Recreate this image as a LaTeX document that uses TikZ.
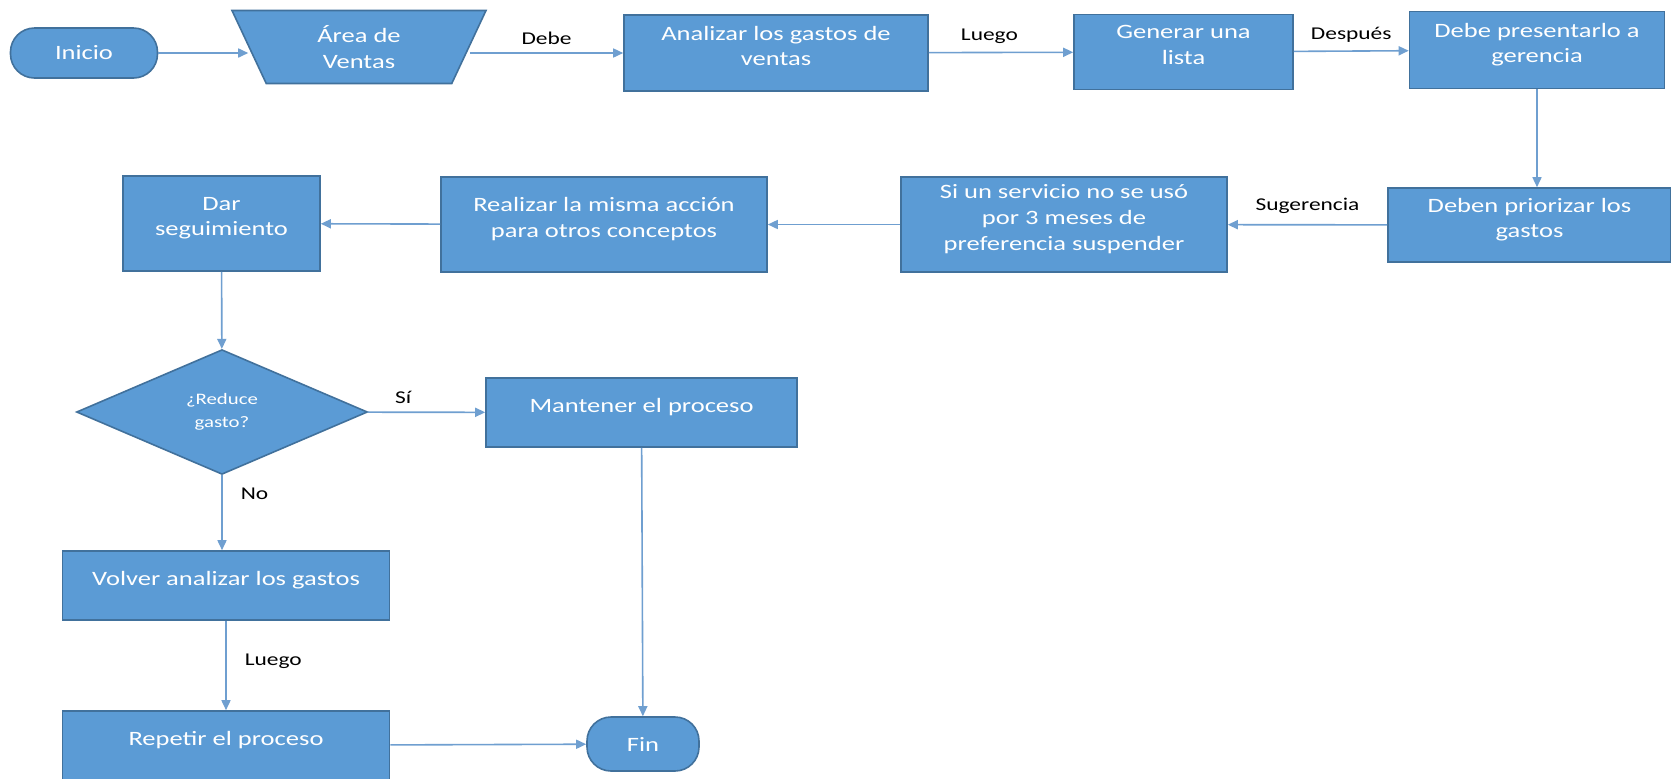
\documentclass[tikz,border=0pt]{standalone}
\usepackage{fontspec}
\setmainfont{Carlito}[FakeStretch=1.3]
\usepackage{xcolor}
\usepackage{tikz}
\usetikzlibrary{shapes.geometric}
\usetikzlibrary{arrows.meta}
\definecolor{azul}{HTML}{5B9BD5}
\definecolor{azulborde}{HTML}{41719C}
\definecolor{linea}{HTML}{6F9FD0}

\begin{document}
\begin{tikzpicture}[x=0.5pt, y=-0.5pt,
	caja/.style={rectangle, fill=azul, draw=azulborde, line width=0.8pt, text=white, align=center, inner sep=2pt, font=\fontsize{10.2}{12.8}\selectfont},
	proceso/.style={caja, text depth=7pt},
	terminal/.style={caja, rounded corners=12pt},
	entrada/.style={caja, trapezium, trapezium left angle=56, trapezium right angle=56, shape border rotate=180, trapezium stretches body},
	decision/.style={caja, diamond, font=\fontsize{8}{11.5}\selectfont},
	flecha/.style={draw=linea, line width=0.8pt, -{Triangle[length=5pt,width=4.5pt]}},
	etiqueta/.style={font=\fontsize{9}{11}\selectfont, inner sep=1pt, text=black}]
	
	\useasboundingbox[fill=white] (0,0) rectangle (1671,778);
	
	\node[terminal, minimum width=73.5pt, minimum height=25pt] (inicio) at (84,53) {Inicio};
	\node[entrada, minimum width=127pt, minimum height=36.5pt] (area) at (359,47) {Área de\\Ventas};
	\node[proceso, minimum width=152pt, minimum height=38pt] (analizar) at (776,53) {Analizar los gastos de\\ventas};
	\node[proceso, minimum width=109.5pt, minimum height=37.5pt] (generar) at (1183.5,52) {Generar una\\lista};
	\node[proceso, minimum width=127.5pt, minimum height=38.5pt] (presentar) at (1537,50) {Debe presentarlo a\\gerencia};
	
	\node[proceso, minimum width=141.5pt, minimum height=37pt] (priorizar) at (1529.5,225) {Deben priorizar los\\gastos};
	\node[proceso, minimum width=163pt, minimum height=47.5pt] (servicio) at (1064,224.5) {Si un servicio no se usó\\por 3 meses de\\preferencia suspender};
	\node[proceso, minimum width=163pt, minimum height=47.5pt] (realizar) at (604,224.5) {Realizar la misma acción\\para otros conceptos};
	\node[proceso, minimum width=98.5pt, minimum height=47.5pt] (dar) at (221.5,223.5) {Dar\\seguimiento};
	
	\node[decision, minimum width=145.5pt, minimum height=60pt] (reduce) at (222,412) {¿Reduce\\gasto?};
	\node[proceso, minimum width=155.5pt, minimum height=34.5pt] (mantener) at (641.5,412.5) {Mantener el proceso};
	\node[proceso, minimum width=163.5pt, minimum height=34.5pt] (volver) at (226,585.5) {Volver analizar los gastos};
	\node[proceso, minimum width=163.5pt, minimum height=34.5pt] (repetir) at (226,745.5) {Repetir el proceso};
	\node[terminal, minimum width=56pt, minimum height=27pt] (fin) at (643,744) {Fin};
	
	\draw[flecha] (inicio) -- (inicio -| area.west);
	\draw[flecha] (area.east |- analizar) -- node[etiqueta, above=3pt] {Debe} (analizar);
	\draw[flecha] (analizar) -- node[etiqueta, above=3pt, pos=0.42] {Luego} (generar);
	\draw[flecha] (generar) -- node[etiqueta, above=3pt] {Después} (presentar);
	\draw[flecha] (presentar) -- (presentar |- priorizar.north);
	\draw[flecha] (priorizar) -- node[etiqueta, above=4pt] {Sugerencia} (servicio);
	\draw[flecha] (servicio) -- (realizar);
	\draw[flecha] (realizar) -- (dar);
	\draw[flecha] (dar) -- (reduce);
	\draw[flecha] (reduce) -- node[etiqueta, above=3pt, pos=0.3] {Sí} (mantener);
	\draw[flecha] (reduce) -- node[etiqueta, right=8pt, pos=0.25] {No} (reduce |- volver.north);
	\draw[flecha] (volver) -- node[etiqueta, right=8pt, pos=0.45] {Luego} (repetir);
	\draw[flecha] (repetir) -- (fin);
	\draw[flecha] (mantener) -- (fin);
	
\end{tikzpicture}
\end{document}
